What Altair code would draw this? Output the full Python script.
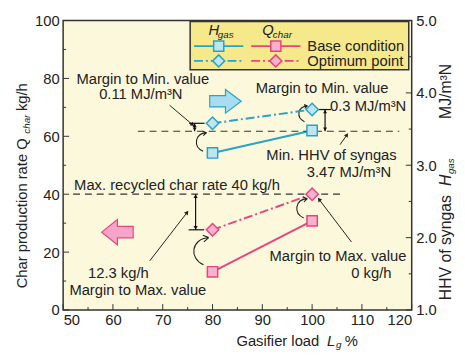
import math
import altair as alt
import pandas as pd

# ---------------- data ----------------
loads = [80, 100]
hgas_base = [3.17, 3.48]      # MJ/m3N, base condition
hgas_opt = [3.58, 3.77]       # MJ/m3N, optimum point
qchar_base = [13.2, 30.8]     # kg/h, base condition
qchar_opt = [27.7, 40.0]      # kg/h, optimum point
min_hhv = 3.47
max_char = 40.0

x_major = [50, 60, 70, 80, 90, 100, 110, 120]
x_minor = [55, 65, 75, 85, 95, 105, 115]
y_major = [0, 20, 40, 60, 80, 100]
y_minor = [10, 30, 50, 70, 90]
r_major = [1.0, 2.0, 3.0, 4.0, 5.0]
r_minor = [1.5, 2.5, 3.5, 4.5]

# ---------------- style ----------------
W, H = 354, 294
TEAL = "#27a4c6"
TEAL_FILL = "#bfe5f1"
PINK = "#e8457f"
PINK_FILL = "#f7b2ce"
BG = "#fcf8dc"
LEG_BG = "#f6e98c"
INK = "#222222"
FONT = "Liberation Sans"
FS = 15
DASHDOT = [9, 3, 2, 3]
PXX = W / 70.0
PXY = H / 100.0

xs = alt.Scale(domain=[50, 120], nice=False, zero=False)
ys = alt.Scale(domain=[0, 100], nice=False)
rs = alt.Scale(domain=[1, 5], nice=False, zero=False)

ax_common = dict(tickSize=0, domain=False, grid=False, labelFont=FONT,
                 labelFontSize=FS, labelColor=INK, title=None)
x_axis = alt.Axis(values=x_major, labelPadding=3, **ax_common)
yl_axis = alt.Axis(values=y_major, orient="left", labelPadding=4, **ax_common)
yr_axis = alt.Axis(values=r_major, orient="right", format=".1f", labelPadding=4, **ax_common)


def X(f="x"):
    return alt.X(f"{f}:Q", scale=xs, axis=x_axis)


def YL(f="y"):
    return alt.Y(f"{f}:Q", scale=ys, axis=yl_axis)


def YR(f="y"):
    return alt.Y(f"{f}:Q", scale=rs, axis=yr_axis)


one = pd.DataFrame({"a": [0]})

# ---------------- right-scale layer (H_gas) ----------------
h_base = pd.DataFrame({"x": loads, "y": hgas_base})
h_opt = pd.DataFrame({"x": loads, "y": hgas_opt})

right = []
right.append(alt.Chart(h_base).mark_line(color=TEAL, strokeWidth=2).encode(x=X(), y=YR()))
right.append(alt.Chart(h_opt).mark_line(color=TEAL, strokeWidth=2, strokeDash=DASHDOT).encode(x=X(), y=YR()))
right.append(alt.Chart(pd.DataFrame({"x": [65], "x2": [117.5], "y": [min_hhv]}))
             .mark_rule(color="#333", strokeWidth=1.2, strokeDash=[7, 5])
             .encode(x=X(), x2="x2:Q", y=YR()))
# margin indicators (H)
hm = pd.DataFrame({"x": [76.4, 102.6], "y": [min_hhv, min_hhv], "y2": [hgas_opt[0], hgas_opt[1]]})
right.append(alt.Chart(hm).mark_rule(color="#111", strokeWidth=1.2).encode(x=X(), y=YR(), y2="y2:Q"))
right.append(alt.Chart(hm).mark_point(shape="triangle-up", size=16, filled=True, color="#111", opacity=1, yOffset=2)
             .encode(x=X(), y=YR("y2")))
right.append(alt.Chart(hm).mark_point(shape="triangle-down", size=16, filled=True, color="#111", opacity=1, yOffset=-2)
             .encode(x=X(), y=YR()))
hticks = pd.DataFrame({"x": [75.3, 100.8], "x2": [78.4, 103.8], "y": [hgas_opt[0], hgas_opt[1]]})
right.append(alt.Chart(hticks).mark_rule(color="#111", strokeWidth=1.2).encode(x=X(), x2="x2:Q", y=YR()))
right.append(alt.Chart(h_base).mark_point(shape="square", size=110, filled=True, fill=TEAL_FILL,
                                          stroke=TEAL, strokeWidth=1.5, opacity=1).encode(x=X(), y=YR()))
right.append(alt.Chart(h_opt).mark_point(shape="diamond", size=160, filled=True, fill=TEAL_FILL,
                                         stroke=TEAL, strokeWidth=1.5, opacity=1).encode(x=X(), y=YR()))
# right ticks
right.append(alt.Chart(pd.DataFrame({"y": r_major})).mark_rule(color="#333", strokeWidth=1)
             .encode(x=alt.value(W), x2=alt.value(W - 6), y=YR()))
right.append(alt.Chart(pd.DataFrame({"y": r_minor})).mark_rule(color="#333", strokeWidth=1)
             .encode(x=alt.value(W), x2=alt.value(W - 3), y=YR()))

# ---------------- left-scale layer (Q_char + annotations) ----------------
q_base = pd.DataFrame({"x": loads, "y": qchar_base})
q_opt = pd.DataFrame({"x": loads, "y": qchar_opt})

left = []
left.append(alt.Chart(pd.DataFrame({"x": x_major})).mark_rule(color="#333", strokeWidth=1)
            .encode(x=X(), y=alt.value(H), y2=alt.value(H - 6)))
left.append(alt.Chart(pd.DataFrame({"x": x_minor})).mark_rule(color="#333", strokeWidth=1)
            .encode(x=X(), y=alt.value(H), y2=alt.value(H - 3)))
left.append(alt.Chart(pd.DataFrame({"y": y_major})).mark_rule(color="#333", strokeWidth=1)
            .encode(y=YL(), x=alt.value(0), x2=alt.value(6)))
left.append(alt.Chart(pd.DataFrame({"y": y_minor})).mark_rule(color="#333", strokeWidth=1)
            .encode(y=YL(), x=alt.value(0), x2=alt.value(3)))

left.append(alt.Chart(pd.DataFrame({"x": [52], "x2": [106], "y": [max_char]}))
            .mark_rule(color="#333", strokeWidth=1.2, strokeDash=[7, 5])
            .encode(x=X(), x2="x2:Q", y=YL()))
left.append(alt.Chart(q_base).mark_line(color=PINK, strokeWidth=2).encode(x=X(), y=YL()))
left.append(alt.Chart(q_opt).mark_line(color=PINK, strokeWidth=2, strokeDash=DASHDOT).encode(x=X(), y=YL()))

# margin indicator (Q at 80)
qm = pd.DataFrame({"x": [76.6], "y": [qchar_opt[0]], "y2": [max_char]})
left.append(alt.Chart(qm).mark_rule(color="#111", strokeWidth=1.2).encode(x=X(), y=YL(), y2="y2:Q"))
left.append(alt.Chart(qm).mark_point(shape="triangle-up", size=18, filled=True, color="#111", opacity=1, yOffset=2)
            .encode(x=X(), y=YL("y2")))
left.append(alt.Chart(qm).mark_point(shape="triangle-down", size=18, filled=True, color="#111", opacity=1, yOffset=-2)
            .encode(x=X(), y=YL()))
left.append(alt.Chart(pd.DataFrame({"x": [75.2], "x2": [78.3], "y": [qchar_opt[0]]}))
            .mark_rule(color="#111", strokeWidth=1.2).encode(x=X(), x2="x2:Q", y=YL()))

left.append(alt.Chart(q_base).mark_point(shape="square", size=110, filled=True, fill=PINK_FILL,
                                         stroke=PINK, strokeWidth=1.5, opacity=1).encode(x=X(), y=YL()))
left.append(alt.Chart(q_opt).mark_point(shape="diamond", size=160, filled=True, fill=PINK_FILL,
                                        stroke=PINK, strokeWidth=1.5, opacity=1).encode(x=X(), y=YL()))

# pointer arrows
ptr = pd.DataFrame({
    "x": [71.4, 67.4, 105.6, 107.9],
    "y": [70.7, 17.0, 57.1, 23.5],
    "x2": [76.0, 74.9, 107.0, 101.4],
    "y2": [64.0, 33.7, 60.5, 38.2],
})
ptr["ang"] = [
    (math.degrees(math.atan2((r.x2 - r.x) * PXX, (r.y2 - r.y) * PXY)) + 360) % 360
    for r in ptr.itertuples()
]
left.append(alt.Chart(ptr).mark_rule(color="#222", strokeWidth=1).encode(x=X(), y=YL(), x2="x2:Q", y2="y2:Q"))
left.append(alt.Chart(ptr).mark_point(shape="triangle-up", size=22, filled=True, color="#222", opacity=1)
            .encode(x=X("x2"), y=YL("y2"), angle=alt.Angle("ang:Q", scale=None)))

# curved arrows (base -> optimum)
CURVE = "M0.1,1 C-0.9,0.55 -0.75,-0.75 0.45,-0.85 M0.45,-0.85 L0.05,-1 M0.45,-0.85 L0.12,-0.55"
curv = pd.DataFrame({"x": [77.9, 98.3, 77.9, 98.1], "y": [58.3, 68.0, 20.7, 35.4],
                     "s": [420, 300, 900, 450]})
left.append(alt.Chart(curv).mark_point(shape=CURVE, filled=False, color="#222", strokeWidth=1.1, opacity=1)
            .encode(x=X(), y=YL(), size=alt.Size("s:Q", scale=None, legend=None)))

# big block arrows
RARROW = "M-1,-0.36 L0,-0.36 L0,-0.75 L1,0 L0,0.75 L0,0.36 L-1,0.36 Z"
LARROW = "M1,-0.36 L0,-0.36 L0,-0.8 L-1,0 L0,0.8 L0,0.36 L1,0.36 Z"
left.append(alt.Chart(pd.DataFrame({"x": [82.6], "y": [72.1]}))
            .mark_point(shape=RARROW, size=1024, filled=True, fill="#a9dcee", stroke=TEAL, strokeWidth=1.2, opacity=1)
            .encode(x=X(), y=YL()))
left.append(alt.Chart(pd.DataFrame({"x": [60.9], "y": [26.9]}))
            .mark_point(shape=LARROW, size=1024, filled=True, fill="#f5a6c8", stroke=PINK, strokeWidth=1.2, opacity=1)
            .encode(x=X(), y=YL()))

# annotation texts
ann = pd.DataFrame({
    "x": [66.0, 65.6, 102.0, 103.6, 103.9, 107.4, 52.2, 61.1, 65.0, 105.2, 111.9],
    "y": [79.6, 74.5, 76.5, 70.4, 53.4, 47.6, 43.2, 12.9, 6.8, 18.6, 12.6],
    "t": ["Margin to Min. value", "0.11 MJ/m\u00b3N", "Margin to Min. value", "0.3 MJ/m\u00b3N",
          "Min. HHV of syngas", "3.47 MJ/m\u00b3N", "Max. recycled char rate 40 kg/h",
          "12.3 kg/h", "Margin to Max. value", "Margin to Max. value", "0 kg/h"],
    "al": ["center", "center", "center", "left", "center", "center", "left",
           "center", "center", "center", "center"],
})
for al in ["center", "left"]:
    left.append(alt.Chart(ann[ann.al == al]).mark_text(font=FONT, fontSize=FS, color=INK, align=al,
                                                       baseline="middle")
                .encode(x=X(), y=YL(), text="t:N"))

# legend
left.append(alt.Chart(one).mark_rect(fill=LEG_BG, stroke="#333", strokeWidth=1.5)
            .encode(x=alt.value(129), x2=alt.value(351), y=alt.value(1), y2=alt.value(50)))
for (x1, x2, yy, col, dash) in [(133, 183, 26, TEAL, None), (191, 241, 26, PINK, None),
                                (133, 183, 41, TEAL, DASHDOT), (191, 241, 41, PINK, DASHDOT)]:
    kw = dict(color=col, strokeWidth=2)
    if dash:
        kw["strokeDash"] = dash
    left.append(alt.Chart(one).mark_rule(**kw)
                .encode(x=alt.value(x1), x2=alt.value(x2), y=alt.value(yy)))
for (xx, yy, shp, col, fil, sz) in [(158, 26, "square", TEAL, TEAL_FILL, 105), (216, 26, "square", PINK, PINK_FILL, 105),
                                   (158, 41, "diamond", TEAL, TEAL_FILL, 150), (216, 41, "diamond", PINK, PINK_FILL, 150)]:
    left.append(alt.Chart(one).mark_point(shape=shp, size=sz, filled=True, fill=fil, stroke=col,
                                          strokeWidth=1.5, opacity=1)
                .encode(x=alt.value(xx), y=alt.value(yy)))

texts = [
    # (x, y, text, size, italic, align, angle)
    (153, 10, "H", FS, True, "center", 0),
    (157, 15, "gas", 10, True, "left", 0),
    (208, 10, "Q", FS, True, "center", 0),
    (213, 15, "char", 10, True, "left", 0),
    (248, 26, "Base condition", FS, False, "left", 0),
    (248, 41, "Optimum point", FS, False, "left", 0),
    # x-axis title
    (176, 326, "Gasifier load", FS, False, "left", 0),
    (268, 326, "L", FS, True, "left", 0),
    (277, 330, "g", 10, True, "left", 0),
    (286, 326, "%", FS, False, "left", 0),
    # left title
    (-42, 272, "Char production rate  Q", FS, False, "left", 270),
    (-37, 115, "char", 10, True, "left", 270),
    (-42, 92, "kg/h", FS, False, "left", 270),
    # right title
    (389, 284, "HHV of syngas", 16, False, "left", 270),
    (389, 168, "H", 16, True, "left", 270),
    (394, 156, "gas", 10, True, "left", 270),
    (389, 100, "MJ/m\u00b3N", 16, False, "left", 270),
]
for (xx, yy, t, sz, it, al, ang) in texts:
    kw = dict(font=FONT, fontSize=sz, color=INK, align=al, baseline="middle", text=t)
    if it:
        kw["fontStyle"] = "italic"
    if ang:
        kw["angle"] = ang
    left.append(alt.Chart(one).mark_text(**kw).encode(x=alt.value(xx), y=alt.value(yy)))

chart = (
    alt.layer(alt.layer(*left), alt.layer(*right))
    .resolve_scale(y="independent")
    .properties(width=W, height=H, padding={"left": 56, "top": 10, "right": 46, "bottom": 44},
                autosize=alt.AutoSizeParams(type="none"), background="white")
    .configure_view(fill=BG, stroke="#333", strokeWidth=1.5)
)

chart.save("out.html", embed_options={"renderer": "svg", "actions": False})
